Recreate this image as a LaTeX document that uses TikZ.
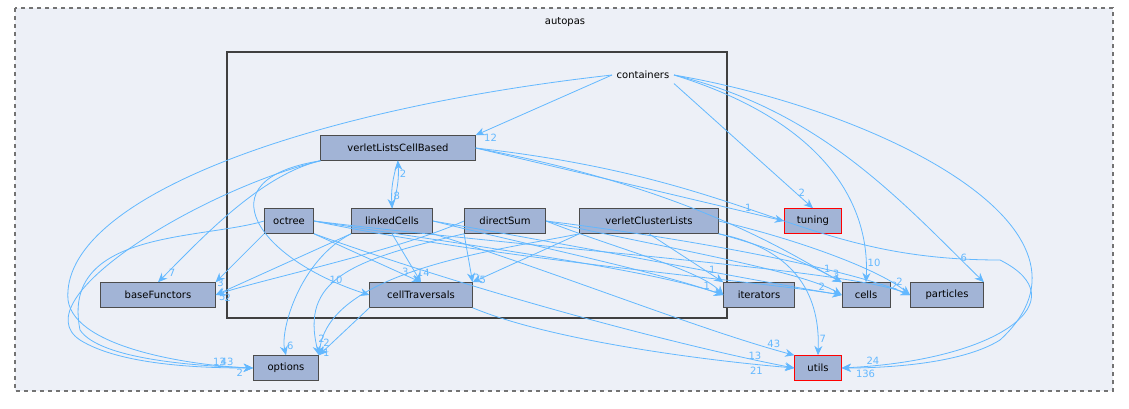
\documentclass[tikz,border=0pt]{standalone}
\usepackage{fontspec}
\setmainfont{DejaVu Sans}
\usetikzlibrary{positioning,arrows.meta,backgrounds}
\definecolor{dirfill}{HTML}{A2B4D6}
\definecolor{bgfill}{HTML}{EDF0F7}
\definecolor{edgecol}{HTML}{63B8FF}
\tikzset{
  dir/.style={draw=black!70, fill=dirfill, minimum height=18.75pt, inner xsep=4pt, font=\fontsize{7.5}{9}\selectfont},
  red dir/.style={dir, draw=red},
  dep/.style={draw=edgecol, -{Stealth[length=7pt,width=6pt]}, line width=0.6pt},
  lbl/.style={text=edgecol, font=\fontsize{7.5}{9}\selectfont, inner sep=1pt}
}
\begin{document}
\begin{tikzpicture}[x=0.75pt,y=-0.75pt]
	\useasboundingbox (0,0) rectangle (1129,408);
	\draw[dashed, thick, draw=black!55, fill=bgfill] (15,8) rectangle (1113,391);
	\node[font=\fontsize{7.5}{9}\selectfont] (autopas) at (565,22) {autopas};
	\draw[line width=1.4pt, draw=black!75] (227,52) rectangle (727,318);
	\node[font=\fontsize{7.5}{9}\selectfont] (containers) at (643,75) {containers};
	
	\node[dir, minimum width=116pt] (vlcb) at (398,148) {verletListsCellBased};
	\node[dir, minimum width=37pt] (octree) at (289,221) {octree};
	\node[dir, minimum width=61pt] (lc) at (392,221) {linkedCells};
	\node[dir, minimum width=61pt] (ds) at (505,221) {directSum};
	\node[dir, minimum width=104pt] (vcl) at (649,221) {verletClusterLists};
	\node[dir, minimum width=86pt] (bf) at (158,295) {baseFunctors};
	\node[dir, minimum width=77pt] (ct) at (421,295) {cellTraversals};
	\node[dir, minimum width=53pt] (it) at (759,295) {iterators};
	\node[dir, minimum width=36pt] (cells) at (866,295) {cells};
	\node[dir, minimum width=55pt] (part) at (947,295) {particles};
	\node[red dir, minimum width=43pt] (tuning) at (813,221) {tuning};
	\node[dir, minimum width=49pt] (opt) at (286,368) {options};
	\node[red dir, minimum width=35pt] (utils) at (818,368) {utils};
	
	% containers
	\draw[dep] (containers.west) -- (vlcb.north east) node[lbl, pos=0.95, below right] {12};
	\draw[dep] (containers.west) .. controls (300,110) and (60,200) .. (68,300) .. controls (75,350) and (200,366) .. (opt.west) node[lbl, pos=0.9, above left] {43};
	\draw[dep] (containers.south east) -- (tuning.north) node[lbl, pos=0.92, above] {2};
	\draw[dep] (containers.east) .. controls (820,120) and (870,200) .. (cells.north) node[lbl, pos=0.92, right] {10};
	\draw[dep] (containers.east) .. controls (820,110) and (900,200) .. (part.north east) node[lbl, pos=0.9, right] {6};
	\draw[dep] (containers.east) .. controls (880,110) and (1120,230) .. (1000,340) .. controls (960,365) and (880,368) .. (utils.east) node[lbl, pos=0.9, below right] {136};
	
	% verletListsCellBased
	\draw[dep] (vlcb.south) to[bend right=10] node[lbl, pos=0.75, right] {8} (lc.north);
	\draw[dep] (lc.north) to[bend right=10] node[lbl, pos=0.75, right] {2} (vlcb.south);
	\draw[dep] (vlcb.south west) .. controls (260,175) and (200,240) .. (bf.north) node[lbl, pos=0.93, right] {7};
	\draw[dep] (vlcb.south west) .. controls (200,190) and (20,300) .. (80,340) .. controls (120,365) and (200,368) .. (opt.west) node[lbl, pos=0.85, above left] {13};
	\draw[dep] (vlcb.south west) .. controls (200,180) and (260,260) .. (ct.west) node[lbl, pos=0.92, above left] {10};
	\draw[dep] (vlcb.east) -- (tuning.west) node[lbl, pos=0.9, above left] {1};
	\draw[dep] (vlcb.east) .. controls (700,190) and (800,260) .. (cells.north west) node[lbl, pos=0.9, above] {1};
	\draw[dep] (vlcb.east) .. controls (760,180) and (800,260) .. (1000,260) .. controls (1080,300) and (1000,360) .. (utils.east) node[lbl, pos=0.95, above right] {24};
	
	% octree
	\draw[dep] (octree.south west) -- (bf.north east) node[lbl, pos=0.9, below] {3};
	\draw[dep] (octree.south east) -- (ct.north) node[lbl, pos=0.9, above left] {3};
	\draw[dep] (octree.west) .. controls (200,240) and (60,230) .. (80,330) .. controls (100,360) and (200,366) .. (opt.west) node[lbl, pos=0.95, below left] {2};
	\draw[dep] (octree.east) .. controls (500,250) and (650,270) .. (it.west) node[lbl, pos=0.95, above left] {1};
	\draw[dep] (octree.east) .. controls (500,260) and (750,280) .. (cells.west) node[lbl, pos=0.95, above left] {2};
	\draw[dep] (octree.east) .. controls (550,250) and (850,270) .. (part.west) node[lbl, pos=0.95, above left] {2};
	\draw[dep] (octree.south east) .. controls (500,300) and (700,350) .. (utils.west) node[lbl, pos=0.9, above left] {13};
	
	% linkedCells
	\draw[dep] (lc.south) -- (ct.north) node[lbl, pos=0.8, right] {14};
	\draw[dep] (lc.south west) .. controls (300,260) and (280,330) .. (opt.north) node[lbl, pos=0.95, above right] {6};
	\draw[dep] (lc.south west) -- (bf.east) node[lbl, pos=0.95, below] {5};
	\draw[dep] (lc.east) .. controls (550,250) and (650,270) .. (it.west);
	\draw[dep] (lc.east) .. controls (600,250) and (750,280) .. (cells.west);
	\draw[dep] (lc.south east) .. controls (550,270) and (700,330) .. (utils.north west) node[lbl, pos=0.93, above] {43};
	
	% directSum
	\draw[dep] (ds.south west) -- (ct.north east) node[lbl, pos=0.9, right] {2};
	\draw[dep] (ds.south west) .. controls (350,260) and (300,280) .. (opt.north east) node[lbl, pos=0.95, above right] {2};
	\draw[dep] (ds.west) .. controls (400,250) and (260,280) .. (bf.east) node[lbl, pos=0.95, below right] {2};
	\draw[dep] (ds.east) .. controls (620,250) and (700,270) .. (it.west);
	\draw[dep] (ds.east) .. controls (650,245) and (800,270) .. (cells.west);
	\draw[dep] (ds.east) .. controls (700,240) and (850,270) .. (part.west);
	
	% verletClusterLists
	\draw[dep] (vcl.south west) -- (ct.north east) node[lbl, pos=0.95, right] {5};
	\draw[dep] (vcl.south west) .. controls (500,250) and (330,270) .. (opt.north east) node[lbl, pos=0.95, right] {2};
	\draw[dep] (vcl.south) -- (it.north west) node[lbl, pos=0.85, above] {1};
	\draw[dep] (vcl.south east) .. controls (780,250) and (820,270) .. (cells.north west) node[lbl, pos=0.92, above] {3};
	\draw[dep] (vcl.east) .. controls (800,240) and (880,270) .. (part.west) node[lbl, pos=0.9, above] {2};
	\draw[dep] (vcl.south east) .. controls (800,250) and (820,300) .. (utils.north) node[lbl, pos=0.9, right] {7};
	
	% cellTraversals
	\draw[dep] (ct.south west) -- (opt.north east) node[lbl, pos=0.95, right] {1};
	\draw[dep] (ct.south east) .. controls (550,340) and (700,360) .. (utils.west) node[lbl, pos=0.9, below left] {21};
\end{tikzpicture}
\end{document}
